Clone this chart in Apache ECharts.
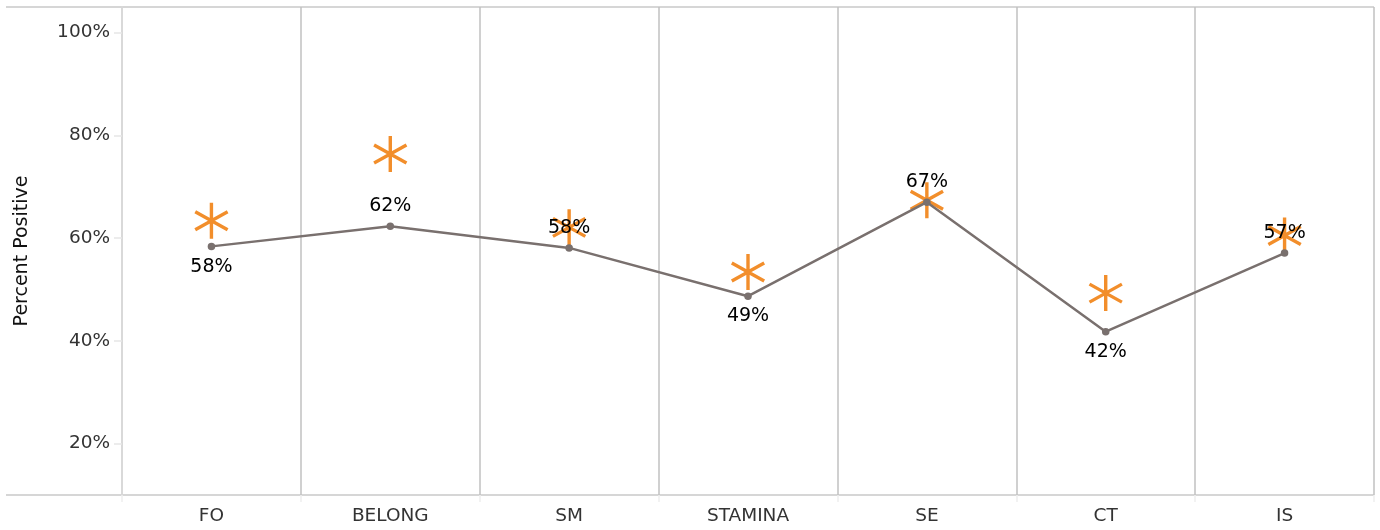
<!DOCTYPE html>
<html>
<head>
<meta charset="utf-8">
<script src="https://cdn.jsdelivr.net/npm/echarts@6/dist/echarts.min.js"></script>
<style>
  html, body { margin: 0; padding: 0; background: #fff; }
  #chart { width: 1380px; height: 530px; }
</style>
</head>
<body>
<div id="chart"></div>
<script>
const categories = ['FO', 'BELONG', 'SM', 'STAMINA', 'SE', 'CT', 'IS'];
const percentPositive = [58.4, 62.3, 58.1, 48.7, 67.0, 41.8, 57.1];
const benchmark = [63.4, 76.4, 62.1, 53.4, 67.4, 49.3, 60.5];
const yTicks = [20, 40, 60, 80, 100];

// label below the point if it rises to the next point, else above
const labelPos = percentPositive.map((v, i) => {
  const last = i === percentPositive.length - 1;
  const other = last ? percentPositive[i - 1] : percentPositive[i + 1];
  return v < other ? 'bottom' : 'top';
});

const GRID = { left: 122, right: 6, top: 7, bottom: 35 };
const W = 1380, H = 530;
const FONT = 'DejaVu Sans';

const chart = echarts.init(document.getElementById('chart'), null, { renderer: 'canvas' });
chart.setOption({
  animation: false,
  backgroundColor: '#ffffff',
  textStyle: { fontFamily: FONT },
  grid: {
    left: GRID.left, right: GRID.right, top: GRID.top, bottom: GRID.bottom,
    containLabel: false, outerBoundsMode: 'none'
  },
  graphic: [
    { type: 'line', silent: true, z: 0,
      shape: { x1: 6, y1: GRID.top, x2: W - GRID.right, y2: GRID.top },
      style: { stroke: '#d6d6d6', lineWidth: 2 } },
    { type: 'line', silent: true, z: 0,
      shape: { x1: 6, y1: H - GRID.bottom, x2: W - GRID.right, y2: H - GRID.bottom },
      style: { stroke: '#d6d6d6', lineWidth: 2 } }
  ],
  xAxis: {
    type: 'category',
    data: categories,
    boundaryGap: true,
    axisLine: { show: false },
    axisTick: { show: true, interval: 0, length: 7, lineStyle: { color: '#eeeeee', width: 1.5 } },
    splitLine: { show: true, interval: 0, lineStyle: { color: '#c0c0c0', width: 1.5 } },
    axisLabel: { interval: 0, margin: 12, color: '#333333', fontSize: 18.5, fontFamily: FONT }
  },
  yAxis: {
    type: 'value',
    min: 10,
    max: 105,
    name: 'Percent Positive',
    nameLocation: 'middle',
    nameGap: 90,
    nameTextStyle: { color: '#111111', fontSize: 19, fontFamily: FONT },
    axisLine: { show: true, lineStyle: { color: '#dcdcdc', width: 1.5 } },
    axisTick: { show: true, length: 8, customValues: yTicks, lineStyle: { color: '#e6e6e6', width: 1.5 } },
    splitLine: { show: false },
    axisLabel: {
      customValues: yTicks,
      margin: 12,
      color: '#333333',
      fontSize: 18.5,
      fontFamily: FONT,
      formatter: v => v + '%'
    }
  },
  series: [
    {
      type: 'scatter',
      z: 1,
      data: benchmark,
      symbol: 'path://M0,-1 L0,1 M-0.9,-0.5 L0.9,0.5 M-0.9,0.5 L0.9,-0.5',
      symbolKeepAspect: true,
      symbolSize: 36,
      itemStyle: { color: '#F28E2B', borderColor: '#F28E2B', borderWidth: 3.4, opacity: 1 },
      silent: true
    },
    {
      type: 'line',
      z: 3,
      data: percentPositive.map((v, i) => ({
        value: v,
        label: { position: labelPos[i] }
      })),
      symbol: 'circle',
      symbolSize: 7.5,
      showAllSymbol: true,
      itemStyle: { color: '#79706E', opacity: 1 },
      lineStyle: { color: '#79706E', width: 2.5 },
      label: {
        show: true,
        distance: 7,
        color: '#000000',
        fontSize: 19,
        fontFamily: FONT,
        formatter: p => Math.round(p.value) + '%'
      },
      silent: true
    }
  ]
});
</script>
</body>
</html>
